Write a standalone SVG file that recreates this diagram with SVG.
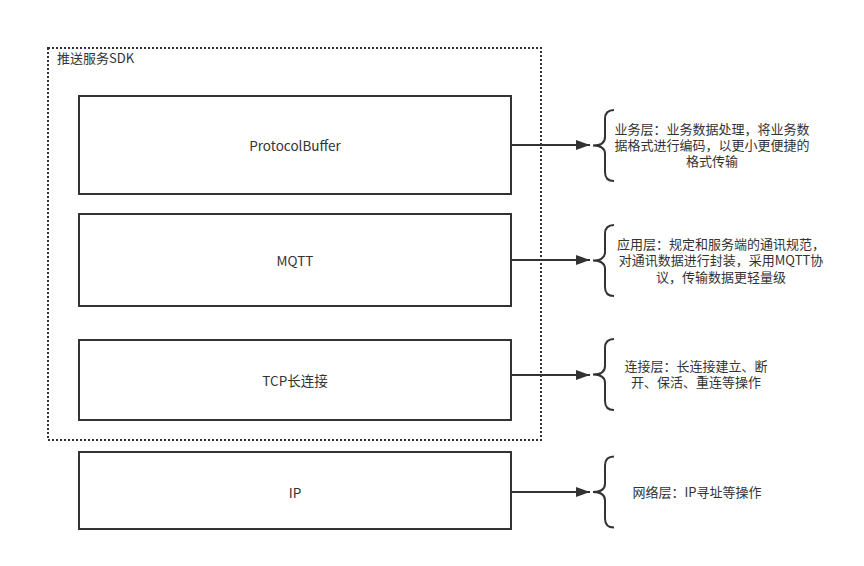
<svg xmlns="http://www.w3.org/2000/svg" width="864" height="566" viewBox="0 0 864 566">
<style>
.box{fill:#fff;stroke:#333;stroke-width:2}
.t{font-family:"Noto Sans CJK SC","Open Sans",sans-serif;font-size:13.5px;fill:#333;text-anchor:middle;dominant-baseline:central}
.d{font-family:"Noto Sans CJK SC","Open Sans",sans-serif;font-size:13px;fill:#333;text-anchor:middle}
.c{stroke:#333;stroke-width:2;fill:none}
.br{stroke:#333;stroke-width:2;fill:none}
</style>
<defs>
<marker id="ah" markerWidth="14" markerHeight="10" refX="14" refY="5" orient="auto" markerUnits="userSpaceOnUse">
<path d="M0,0 L14,5 L0,10 Z" fill="#333"/>
</marker>
<path id="brace" d="M21,-35.5 Q12,-35.5 12,-26.5 L12,-8.5 Q12,0 0,0 Q12,0 12,8.5 L12,26.5 Q12,35.5 21,35.5"/>
</defs>
<rect width="864" height="566" fill="#fff"/>
<g id="sdk">
<rect x="48" y="48" width="493" height="392" fill="none" stroke="#333" stroke-width="2" stroke-dasharray="2 2"/>
<text x="57" y="57" class="t" style="text-anchor:start;font-size:13px">推送服务SDK</text>
</g>
<g id="protobuf">
<rect class="box" x="79" y="96" width="432" height="98"/>
<text class="t" x="295" y="145">ProtocolBuffer</text>
</g>
<g id="mqtt">
<rect class="box" x="79" y="214" width="432" height="92"/>
<text class="t" x="295" y="260">MQTT</text>
</g>
<g id="tcp">
<rect class="box" x="79" y="340" width="432" height="80"/>
<text class="t" x="295" y="380">TCP长连接</text>
</g>
<g id="ip">
<rect class="box" x="79" y="452" width="432" height="77"/>
<text class="t" x="295" y="492">IP</text>
</g>
<g id="connectors">
<line class="c" x1="511" y1="145" x2="590" y2="145" marker-end="url(#ah)"/>
<line class="c" x1="511" y1="260" x2="590" y2="260" marker-end="url(#ah)"/>
<line class="c" x1="511" y1="375" x2="590" y2="375" marker-end="url(#ah)"/>
<line class="c" x1="511" y1="492" x2="590" y2="492" marker-end="url(#ah)"/>
</g>
<g id="desc-business">
<use href="#brace" class="br" transform="translate(593,145.5)"/>
<text class="d" x="712" y="133.5"><tspan x="712">业务层：业务数据处理，将业务数</tspan><tspan x="712" dy="16">据格式进行编码，以更小更便捷的</tspan><tspan x="712" dy="16">格式传输</tspan></text>
</g>
<g id="desc-app">
<use href="#brace" class="br" transform="translate(593,260.5)"/>
<text class="d" x="721" y="248.5"><tspan x="721">应用层：规定和服务端的通讯规范，</tspan><tspan x="721" dy="16.5">对通讯数据进行封装，采用MQTT协</tspan><tspan x="721" dy="16.5">议，传输数据更轻量级</tspan></text>
</g>
<g id="desc-conn">
<use href="#brace" class="br" transform="translate(593,374.5)"/>
<text class="d" x="696" y="370.5"><tspan x="696">连接层：长连接建立、断</tspan><tspan x="696" dy="16">开、保活、重连等操作</tspan></text>
</g>
<g id="desc-net">
<use href="#brace" class="br" transform="translate(593,492)"/>
<text class="d" x="697" y="496.5">网络层：IP寻址等操作</text>
</g>
</svg>
